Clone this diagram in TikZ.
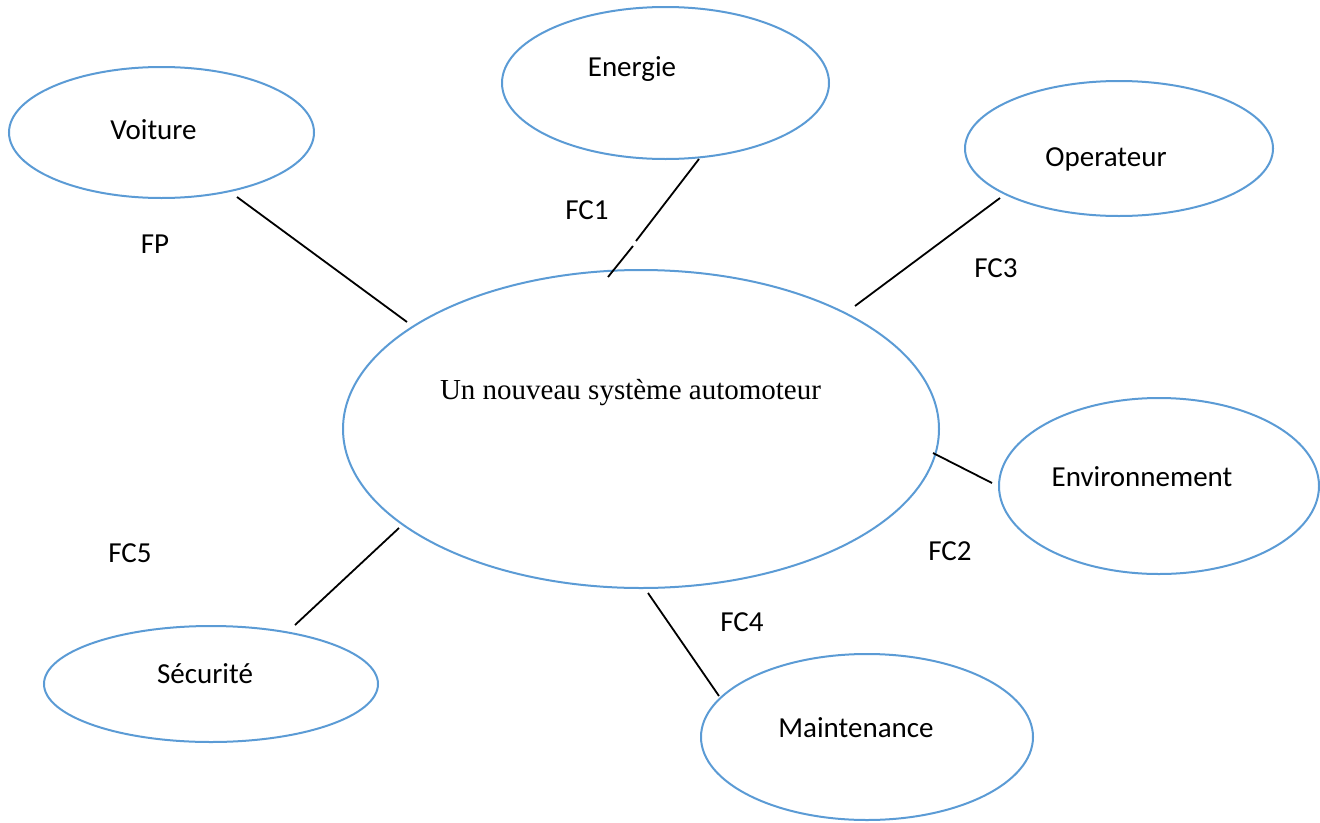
\documentclass[tikz,border=0pt]{standalone}
\usepackage{fontspec}
\setmainfont{Carlito}
\newfontfamily\titleface{Liberation Serif}
\usetikzlibrary{shapes.geometric}
\definecolor{bubbleblue}{HTML}{5B9BD5}
\tikzset{
  bubble/.style={ellipse, draw=bubbleblue, line width=2pt, inner sep=0pt},
  word/.style={anchor=base, inner sep=0pt, font=\fontsize{29}{34}\selectfont},
  link/.style={draw=black, line width=1.8pt}
}
\begin{document}
\begin{tikzpicture}[x=1pt, y=-1pt]
\useasboundingbox (0,0) rectangle (1320,822);

% ellipses
\node[bubble, minimum width=596pt, minimum height=318pt] (central) at (641,429) {};
\node[bubble, minimum width=305pt, minimum height=131pt] (voiture) at (161.5,132.5) {};
\node[bubble, minimum width=327pt, minimum height=152pt] (energie) at (665.5,83) {};
\node[bubble, minimum width=308pt, minimum height=135pt] (operateur) at (1119,148.5) {};
\node[bubble, minimum width=320pt, minimum height=176pt] (environnement) at (1159,486) {};
\node[bubble, minimum width=334pt, minimum height=116pt] (securite) at (211,684) {};
\node[bubble, minimum width=332pt, minimum height=166pt] (maintenance) at (867,737) {};

% texts inside the ellipses
\node[word, font=\fontsize{29}{34}\selectfont\titleface] (centralT) at (630.5,399) {Un nouveau système automoteur};
\node[word] (voitureT) at (153.5,139) {Voiture};
\node[word] (energieT) at (632,76) {Energie};
\node[word] (operateurT) at (1106,166) {Operateur};
\node[word] (environnementT) at (1142,486) {Environnement};
\node[word] (securiteT) at (205,683) {Sécurité};
\node[word] (maintenanceT) at (856,737) {Maintenance};

% function labels
\node[word] (fp) at (155,253) {FP};
\node[word] (fc1) at (587,219) {FC1};
\node[word] (fc3) at (996,277) {FC3};
\node[word] (fc2) at (950,560) {FC2};
\node[word] (fc4) at (742,631) {FC4};
\node[word] (fc5) at (130,562) {FC5};

% connector ends
\coordinate (fpA) at (237,197);
\coordinate (fpB) at (407,322);
\coordinate (fc1A) at (699,159);
\coordinate (fc1M) at (636,241);
\coordinate (fc1N) at (633,246);
\coordinate (fc1B) at (608,277);
\coordinate (fc3A) at (1000,198);
\coordinate (fc3B) at (855,306);
\coordinate (fc2A) at (933,453);
\coordinate (fc2B) at (992,483);
\coordinate (fc4A) at (648,593);
\coordinate (fc4B) at (719,696);
\coordinate (fc5A) at (399,528);
\coordinate (fc5B) at (295,625);

% connectors
\draw[link] (fpA) -- (fpB);
\draw[link] (fc1A) -- (fc1M);
\draw[link] (fc1N) -- (fc1B);
\draw[link] (fc3A) -- (fc3B);
\draw[link] (fc2A) -- (fc2B);
\draw[link] (fc4A) -- (fc4B);
\draw[link] (fc5A) -- (fc5B);
\end{tikzpicture}
\end{document}
